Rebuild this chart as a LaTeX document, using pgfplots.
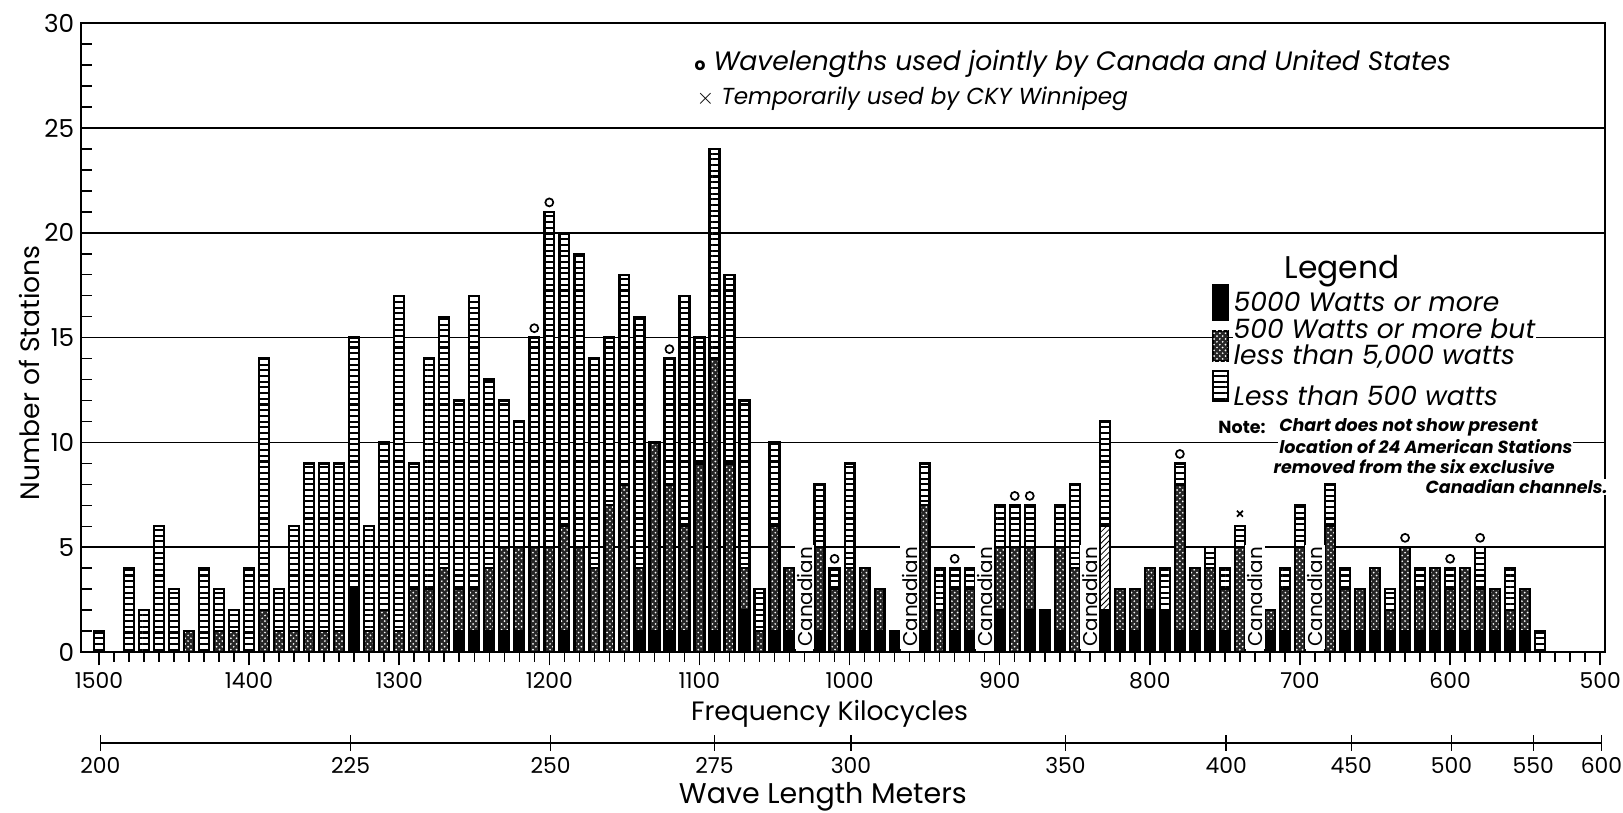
\documentclass[border=0pt]{standalone}
\usepackage{fontspec}
\setmainfont{Poppins}
\usepackage{pgfplots}
\pgfplotsset{compat=1.18}
\usepackage{pgfplotstable}
\usetikzlibrary{patterns,patterns.meta}

\tikzdeclarepattern{
  name=rungs,
  type=uncolored,
  bounding box={(-0.1pt,-0.1pt) and (3.1pt,3.1pt)},
  tile size={(3pt,3pt)},
  code={\draw[line width=1.1pt] (-0.1pt,1.5pt) -- (3.1pt,1.5pt);}
}

% f = frequency (kc); b = 5000 W or more; c = 500-5000 W; h = hatched part; l = less than 500 W
\pgfplotstableread{
f b c h l
1500 0 0 0 1
1480 0 0 0 4
1470 0 0 0 2
1460 0 0 0 6
1450 0 0 0 3
1440 0 1 0 0
1430 0 0 0 4
1420 0 1 0 2
1410 0 1 0 1
1400 0 0 0 4
1390 0 2 0 12
1380 0 1 0 2
1370 0 1 0 5
1360 0 1 0 8
1350 0 1 0 8
1340 0 1 0 8
1330 3 0 0 12
1320 0 1 0 5
1310 0 2 0 8
1300 0 1 0 16
1290 0 3 0 6
1280 0 3 0 11
1270 0 4 0 12
1260 1 2 0 9
1250 1 2 0 14
1240 1 3 0 9
1230 1 4 0 7
1220 1 4 0 6
1210 0 5 0 10
1200 0 5 0 16
1190 1 5 0 14
1180 0 5 0 14
1170 0 4 0 10
1160 0 7 0 8
1150 0 8 0 10
1140 1 3 0 12
1130 1 9 0 0
1120 1 7 0 6
1110 1 5 0 11
1100 0 9 0 6
1090 1 13 0 10
1080 0 9 0 9
1070 2 2 0 8
1060 0 1 0 2
1050 1 5 0 4
1040 1 3 0 0
1020 1 4 0 3
1010 0 3 0 1
1000 1 3 0 5
990 1 3 0 0
980 1 2 0 0
970 1 0 0 0
950 1 6 0 2
940 0 2 0 2
930 1 2 0 1
920 1 2 0 1
900 2 3 0 2
890 0 5 0 2
880 2 3 0 2
870 2 0 0 0
860 1 4 0 2
850 0 4 0 4
830 2 0 4 5
820 1 2 0 0
810 1 2 0 0
800 2 2 0 0
790 2 0 0 2
780 1 7 0 1
770 1 3 0 0
760 1 3 0 1
750 1 2 0 1
740 0 5 0 1
720 1 1 0 0
710 1 2 0 1
700 0 5 0 2
680 0 6 0 2
670 1 2 0 1
660 1 2 0 0
650 1 3 0 0
640 1 1 0 1
630 1 4 0 0
620 1 2 0 1
610 1 3 0 0
600 1 2 0 1
590 1 3 0 0
580 1 2 0 2
570 1 2 0 0
560 1 1 0 2
550 1 2 0 0
540 0 0 0 1
}\stations

\tikzset{
  bigblack/.style={fill=black, draw=black, line width=1.2pt},
  midcross/.style={fill=black!85, draw=black, line width=1.2pt, postaction={pattern=crosshatch dots, pattern color=white}},
  hatchd/.style={fill=white, draw=black, line width=1.2pt, postaction={pattern=north east lines}},
  lowlined/.style={fill=white, draw=black, line width=1.2pt, postaction={pattern=rungs}},
  legtext/.style={anchor=base west, fill=white, inner sep=0.5pt, text height=0.7em, text depth=0.1em, font=\itshape\fontsize{14}{14}\selectfont},
  notetext/.style={anchor=west, fill=white, inner sep=0.5pt, font=\bfseries\itshape\fontsize{9.2}{9.2}\selectfont},
}

\begin{document}
\begin{tikzpicture}
\begin{axis}[
  name=main,
  scale only axis, width=802pt, height=331pt,
  xmin=497, xmax=1512, x dir=reverse,
  ymin=0, ymax=30,
  ybar stacked, bar width=6.6,
  xtick=\empty,
  ytick={0,5,...,30}, yticklabels={0,5,10,15,20,25,30},
  minor y tick num=4,
  ytick pos=left, tick align=inside,
  major tick length=0pt, minor tick length=6pt,
  minor tick style={black, line width=0.8pt},
  ymajorgrids, major grid style={black, line width=0.9pt},
  axis line style={line width=1.1pt},
  yticklabel style={font=\fontsize{13}{13}\selectfont},
  ylabel={Number of Stations},
  ylabel style={font=\fontsize{14}{14}\selectfont, at={(axis description cs:-0.034,0.444)}, anchor=center},
]
\addplot[bigblack] table[x=f,y=b]{\stations};
\addplot[midcross] table[x=f,y=c]{\stations};
\addplot[hatchd] table[x=f,y=h]{\stations};
\addplot[lowlined] table[x=f,y=l]{\stations};
\end{axis}

\begin{axis}[
  scale only axis, width=802pt, height=331pt,
  xmin=497, xmax=1512, x dir=reverse,
  ymin=0, ymax=30,
  hide y axis, axis x line*=bottom,
  xtick={500,600,...,1500},
  xticklabels={500,600,700,800,900,1000,1100,1200,1300,1400,1500},
  minor x tick num=9,
  tick align=outside, major tick length=7pt, minor tick length=5pt,
  tick style={black, line width=0.8pt},
  x axis line style={line width=1.1pt},
  xticklabel style={font=\fontsize{11.5}{11.5}\selectfont},
  clip=false,
]
\addplot[only marks, mark=o, mark size=2.1pt, line width=0.9pt, black] coordinates {
(1210,15.45) (1200,21.45) (1120,14.45) (1010,4.45) (930,4.45) (890,7.45) (880,7.45) (780,9.45) (630,5.45) (600,4.45) (580,5.45)};
\addplot[only marks, mark=x, mark size=2.2pt, line width=0.9pt, black] coordinates {(740,6.6)};
\pgfplotsinvokeforeach{1030,960,910,840,730,690}{
  \node[rotate=90, anchor=west, fill=white, inner sep=1pt, font=\fontsize{10.5}{10.5}\selectfont] at (axis cs:#1,0.15) {Canadian};
}
\end{axis}

\begin{axis}[
  at={(10.2pt,-47.9pt)}, anchor=south west,
  scale only axis, width=790.1pt, height=1pt,
  xmin=499.7, xmax=1499.1, x dir=reverse,
  ymin=0, ymax=1,
  hide y axis, axis x line*=bottom,
  xtick={1499.1,1332.5,1199.3,1090.3,999.4,856.6,749.6,666.3,599.6,545.1,499.7},
  xticklabels={200,225,250,275,300,350,400,450,500,550,600},
  tick align=center, major tick length=8pt,
  tick style={black, line width=0.8pt},
  x axis line style={line width=1pt},
  xticklabel style={font=\fontsize{11.5}{11.5}\selectfont},
]
\end{axis}

% axis titles
\node[font=\fontsize{14}{14}\selectfont] at (394pt,-32.6pt) {Frequency Kilocycles};
\node[font=\fontsize{15}{15}\selectfont] at (390.5pt,-76pt) {Wave Length Meters};

% notes at top
\node[anchor=west, font=\itshape\fontsize{14}{14}\selectfont] at (319.5pt,309.5pt) {{\upshape\bfseries\fontsize{9}{9}\selectfont o}\ Wavelengths used jointly by Canada and United States};
\node[anchor=west, font=\itshape\fontsize{12.2}{12.2}\selectfont] at (320.5pt,291pt) {$\times$\ Temporarily used by CKY Winnipeg};

% legend
\node[font=\fontsize{16.5}{16.5}\selectfont, fill=white, inner sep=1pt] at (663.7pt,200.5pt) {Legend};
\draw[bigblack, line width=1pt] (596pt,175pt) rectangle (603.7pt,193pt);
\draw[midcross, line width=1pt] (596pt,153pt) rectangle (603.7pt,169pt);
\draw[lowlined, line width=1pt] (596pt,132pt) rectangle (603.7pt,148pt);
\node[legtext] at (606pt,179pt) {5000 Watts or more};
\node[legtext] at (606pt,165pt) {500 Watts or more but};
\node[legtext] at (606pt,151.5pt) {less than 5,000 watts};
\node[legtext] at (606pt,130pt) {Less than 500 watts};

\node[anchor=west, fill=white, inner sep=0.5pt, font=\bfseries\fontsize{9.2}{9.2}\selectfont] at (598pt,118.4pt) {Note:};
\node[notetext] at (630pt,118.4pt) {Chart does not show present};
\node[notetext] at (630pt,108pt) {location of 24 American Stations};
\node[notetext] at (627pt,97.5pt) {removed from the six exclusive};
\node[notetext] at (707pt,87pt) {Canadian channels.};

\pgfresetboundingbox
\path (-42.6pt,-84.2pt) rectangle (811.6pt,343.2pt);
\end{tikzpicture}
\end{document}
